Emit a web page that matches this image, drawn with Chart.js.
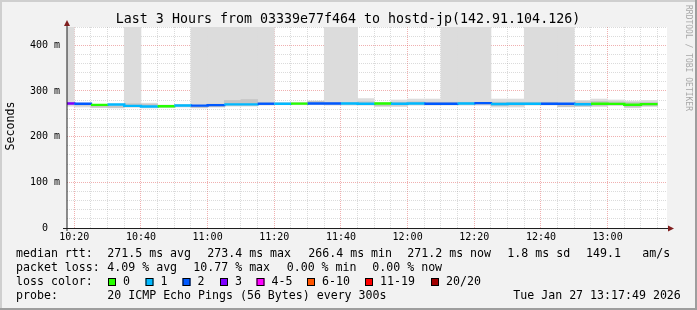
<!DOCTYPE html>
<html><head><meta charset="utf-8">
<script src="https://cdn.jsdelivr.net/npm/chart.js@4/dist/chart.umd.min.js"></script>
<style>html,body{margin:0;padding:0;background:#f2f2f2;overflow:hidden}canvas{display:block}</style>
</head><body>
<canvas id="c" width="697" height="310"></canvas>
<script>
// ---------- data ----------
const stepStarts = ['10:15','10:20','10:25','10:30','10:35','10:40','10:45','10:50','10:55','11:00','11:05','11:10',
  '11:15','11:20','11:25','11:30','11:35','11:40','11:45','11:50','11:55','12:00','12:05','12:10',
  '12:15','12:20','12:25','12:30','12:35','12:40','12:45','12:50','12:55','13:00','13:05','13:10'];
const medianRtt = [272.5,272.0,269.5,270.2,267.3,266.0,266.4,268.0,267.8,269.0,270.6,270.6,
  272.0,272.0,272.3,272.5,272.5,272.5,272.0,272.4,272.0,272.4,272.0,272.0,
  272.5,273.4,271.5,272.0,272.0,272.0,272.0,271.0,272.0,271.7,269.8,271.2];
const lostPings = [3,2,0,1,1,1,0,1,2,2,1,1,
  2,1,0,2,2,1,1,0,1,1,2,2,
  1,2,1,1,1,2,2,1,0,0,0,0];
const smokeLow = [266,264,263,262,263,262,263,264,262,264,266,266,
  268,269,269,269,268,268,268,265,265,268,268,268,
  268,268,264,264,268,268,264.6,265,265,267,262.5,265];
const smokeHigh = [500,274,271,272,500,274,270,271,500,500,500,500,
  500,275,276,279,500,500,284,275,281,283,283,500,
  500,500,283,283,500,500,500,280,283,281,278.6,280];
const coreLow = [270,268,263.5,263,266,266,264,266,263,265,268,268,
  270,270,270,270,270,270,270,267,268,270,270,270,
  270,270,267,268,270,270,265,266,267,269,264,267];
const coreHigh = [275,273,268,268,273,272,268,270,268,272,280,282,
  275,274,274,278,275,275,277,274,276,277,276,276,
  276,276,276,276,276,276,270,277,278,277,276,276];
const stepMinutes = 5;
const graphEnd = '13:17:49';
const windowMinutes = 180;

const lossColors = ['#26ff00','#00b8ff','#0059ff','#7e00ff','#ff00ff','#ff5500','#ff0000','#a00000'];
const lossLabels = ['0','1','2','3','4-5','6-10','11-19','20/20'];
const lossUpper = [0,1,2,3,5,10,19,20];

const xTickLabels = ['10:20','10:40','11:00','11:20','11:40','12:00','12:20','12:40','13:00'];
const yTickValues = [0,100,200,300,400];
const yTickLabels = ['0  ','100 m','200 m','300 m','400 m'];

const titleText = 'Last 3 Hours from 03339e77f464 to hostd-jp(142.91.104.126)';
const yAxisTitle = 'Seconds';
const watermark = 'RRDTOOL / TOBI OETIKER';
const rttLabel = 'median rtt:';
const rttStats = ['271.5 ms avg','273.4 ms max','266.4 ms min','271.2 ms now','1.8 ms sd','149.1','am/s'];
const lossLabel = 'packet loss:';
const lossStats = ['4.09 % avg','10.77 % max','0.00 % min','0.00 % now'];
const lossColorLabel = 'loss color:';
const probeLabel = 'probe:';
const probeText = '20 ICMP Echo Pings (56 Bytes) every 300s';
const dateText = 'Tue Jan 27 13:17:49 2026';

// ---------- helpers ----------
const toMin = s => { const p = s.split(':').map(Number); return p[0]*60 + p[1] + (p[2]||0)/60; };
const xMax = toMin(graphEnd), xMin = xMax - windowMinutes;
const starts = stepStarts.map(toMin);
const lossIdx = n => lossUpper.findIndex(u => n <= u);
const lossCol = n => lossColors[lossIdx(n)];

const medianPts = starts.map((m,i) => ({x:m, y:medianRtt[i]}));
medianPts.push({x: starts[starts.length-1] + stepMinutes, y: medianRtt[medianRtt.length-1]});

const MONO = '"DejaVu Sans Mono", monospace';

const rrdPlugin = {
  id: 'rrd',
  beforeDraw(chart) {
    const ctx = chart.ctx, a = chart.chartArea, W = chart.width, H = chart.height;
    ctx.save();
    ctx.fillStyle = '#f2f2f2'; ctx.fillRect(0,0,W,H);
    ctx.fillStyle = '#cfcfcf'; ctx.fillRect(0,0,W,2); ctx.fillRect(0,0,2,H);
    ctx.fillStyle = '#9e9e9e'; ctx.fillRect(0,H-2,W,2); ctx.fillRect(W-2,0,2,H);
    ctx.fillStyle = '#ffffff'; ctx.fillRect(a.left, a.top, a.right-a.left, a.bottom-a.top);
    ctx.restore();
  },
  afterDraw(chart) {
    const ctx = chart.ctx, a = chart.chartArea;
    ctx.save();
    // axes
    ctx.strokeStyle = '#1f1f1f'; ctx.lineWidth = 1;
    ctx.beginPath(); ctx.moveTo(63, a.bottom + 0.5); ctx.lineTo(a.right + 2, a.bottom + 0.5); ctx.stroke();
    ctx.beginPath(); ctx.moveTo(a.left, a.bottom + 3); ctx.lineTo(a.left, a.top - 2); ctx.stroke();
    ctx.fillStyle = '#801f1f';
    ctx.beginPath(); ctx.moveTo(a.left - 3, a.top - 1); ctx.lineTo(a.left + 3, a.top - 1); ctx.lineTo(a.left, a.top - 7); ctx.closePath(); ctx.fill();
    ctx.beginPath(); ctx.moveTo(a.right + 1, a.bottom - 2.5); ctx.lineTo(a.right + 1, a.bottom + 3.5); ctx.lineTo(a.right + 7, a.bottom + 0.5); ctx.closePath(); ctx.fill();
    // title
    ctx.fillStyle = '#000';
    ctx.font = '13.3px ' + MONO; ctx.textAlign = 'center'; ctx.textBaseline = 'middle';
    ctx.fillText(titleText, 348, 19.5);
    // y title
    ctx.save(); ctx.translate(10.5, 126); ctx.rotate(-Math.PI/2);
    ctx.font = '11.6px ' + MONO; ctx.fillText(yAxisTitle, 0, 0); ctx.restore();
    // watermark
    ctx.save(); ctx.translate(688, 5); ctx.rotate(Math.PI/2);
    ctx.font = '8px ' + MONO; ctx.fillStyle = '#a8a8a8'; ctx.textAlign = 'left'; ctx.textBaseline = 'middle';
    ctx.fillText(watermark, 0, 0); ctx.restore();
    // legend
    ctx.font = '11.6px ' + MONO; ctx.textAlign = 'left'; ctx.textBaseline = 'middle'; ctx.fillStyle = '#000';
    const L1 = 254, L2 = 268, L3 = 282, L4 = 296;
    ctx.fillText(rttLabel, 16, L1);
    const rttX = [107.3, 207.3, 308.3, 407.3, 507.3, 586, 642.3];
    rttStats.forEach((s,i) => ctx.fillText(s, rttX[i], L1));
    ctx.fillText(lossLabel, 16, L2);
    const lossX = [107.3, 193.3, 286.7, 372.3];
    lossStats.forEach((s,i) => ctx.fillText(s, lossX[i], L2));
    ctx.fillText(lossColorLabel, 16, L3);
    const boxX = [108, 145.5, 182.5, 220, 256.5, 307, 365, 431];
    lossLabels.forEach((s,i) => {
      ctx.fillStyle = lossColors[i]; ctx.fillRect(boxX[i], L3 - 4, 8, 8);
      ctx.strokeStyle = '#000'; ctx.lineWidth = 1; ctx.strokeRect(boxX[i] + 0.5, L3 - 3.5, 7, 7);
      ctx.fillStyle = '#000'; ctx.fillText(s, boxX[i] + 15, L3);
    });
    ctx.fillText(probeLabel, 16, L4);
    ctx.fillText(probeText, 107.3, L4);
    ctx.fillText(dateText, 513.3, L4);
    ctx.restore();
  }
};

const xTickVals = []; for (let m = Math.ceil(xMin/stepMinutes)*stepMinutes; m <= xMax; m += stepMinutes) xTickVals.push(m);
const xMajor = xTickLabels.map(toMin);
const yTickVals = []; for (let v = 0; v <= 440; v += 20) yTickVals.push(v);
const MINOR = 'rgba(143,143,143,0.32)', MAJOR = 'rgba(222,79,79,0.45)';

new Chart(document.getElementById('c'), {
  type: 'bar',
  data: {
    datasets: [
      { type: 'line', label: 'median', data: medianPts, stepped: true, borderWidth: 2.4, pointRadius: 0,
        borderColor: lossCol(lostPings[0]), borderCapStyle: 'butt',
        segment: { borderColor: c => lossCol(lostPings[c.p0DataIndex]) }, order: 0 },
      { label: 'core', data: starts.map((m,i) => ({x: m + stepMinutes/2, y: [coreLow[i], coreHigh[i]]})),
        backgroundColor: '#c6c6c6', borderWidth: 0, grouped: false, barPercentage: 1.04, categoryPercentage: 1, order: 1 },
      { label: 'smoke', data: starts.map((m,i) => ({x: m + stepMinutes/2, y: [smokeLow[i], smokeHigh[i]]})),
        backgroundColor: '#dcdcdc', borderWidth: 0, grouped: false, barPercentage: 1.04, categoryPercentage: 1, order: 2 }
    ]
  },
  options: {
    responsive: false, animation: false, devicePixelRatio: 1,
    layout: { padding: { left: 0, right: 30, top: 27, bottom: 62 } },
    plugins: { legend: { display: false }, tooltip: { enabled: false } },
    scales: {
      x: {
        type: 'linear', min: xMin, max: xMax, offset: false, z: 1,
        afterBuildTicks: s => { s.ticks = xTickVals.map(v => ({value: v})); },
        afterFit: s => { s.height = 20; },
        grid: { offset: false, drawTicks: false, lineWidth: 1,
          color: c => xMajor.includes(c.tick && c.tick.value) ? MAJOR : MINOR },
        border: { display: false, dash: [1,1] },
        ticks: { autoSkip: false, maxRotation: 0, padding: 3, color: '#000', font: { family: 'DejaVu Sans Mono', size: 10 },
          callback: v => { const i = xMajor.indexOf(v); return i >= 0 ? xTickLabels[i] : ''; } }
      },
      y: {
        min: 0, max: 440, z: 1,
        afterBuildTicks: s => { s.ticks = yTickVals.map(v => ({value: v})); },
        afterFit: s => { s.width = 67; },
        grid: { drawTicks: false, lineWidth: 1,
          color: c => (c.tick && c.tick.value > 0 && yTickValues.includes(c.tick.value)) ? MAJOR : MINOR },
        border: { display: false, dash: [1,1] },
        ticks: { autoSkip: false, padding: 7, color: '#000', font: { family: 'DejaVu Sans Mono', size: 10 },
          callback: v => { const i = yTickValues.indexOf(v); return i >= 0 ? yTickLabels[i] : ''; } }
      }
    }
  },
  plugins: [rrdPlugin]
});
</script>
</body></html>
